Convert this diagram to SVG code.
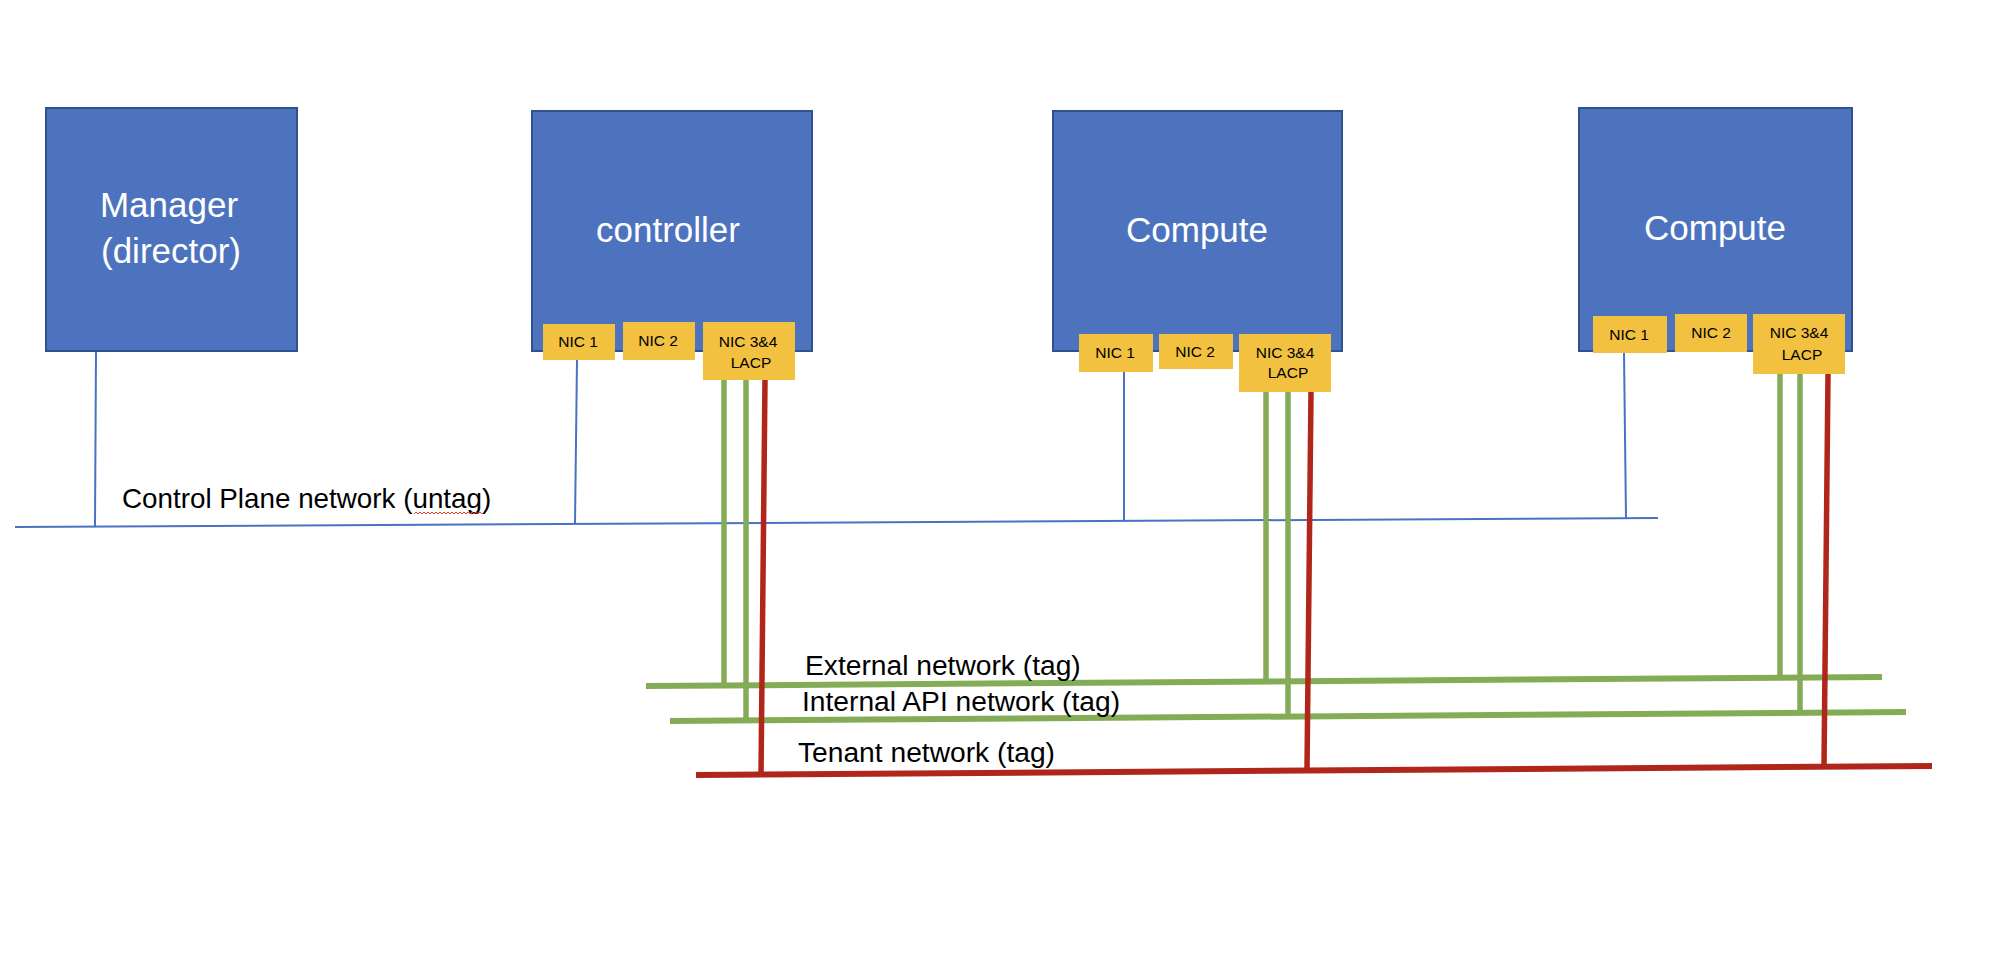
<svg xmlns="http://www.w3.org/2000/svg" width="2006" height="970" viewBox="0 0 2006 970">
<style>
.box{fill:#4E73BE;stroke:#2F528F;stroke-width:2}
.nic{fill:#F2C13F}
.big{font-family:"Liberation Sans",Arial,sans-serif;font-size:35px;fill:#ffffff;text-anchor:middle}
.nt{font-family:"Liberation Sans",Arial,sans-serif;font-size:15.5px;fill:#000000;text-anchor:middle}
.lbl{font-family:"Liberation Sans",Arial,sans-serif;font-size:28.2px;fill:#000000}
.blue{stroke:#4A72C4;stroke-width:2;fill:none}
.green{stroke:#84AB56;stroke-width:5.5;fill:none}
.greenh{stroke:#84AB56;stroke-width:6;fill:none}
.red{stroke:#B0261B;stroke-width:5.5;fill:none}
.redh{stroke:#B0261B;stroke-width:6;fill:none}
</style>
<rect width="2006" height="970" fill="#ffffff"/>
<g id="connectors">
<line class="blue" x1="15" y1="527" x2="1658" y2="518"/>
<line class="blue" x1="96" y1="351" x2="95" y2="526"/>
<line class="blue" x1="577" y1="360" x2="575" y2="523"/>
<line class="blue" x1="1124" y1="372" x2="1124" y2="521"/>
<line class="blue" x1="1624" y1="353" x2="1626" y2="518"/>
<line class="greenh" x1="646" y1="686" x2="1882" y2="677"/>
<line class="greenh" x1="670" y1="721" x2="1906" y2="712"/>
<line class="redh" x1="696" y1="775" x2="1932" y2="766"/>
<line class="green" x1="724" y1="380" x2="724" y2="686"/>
<line class="green" x1="746" y1="380" x2="746" y2="721"/>
<line class="red" x1="765" y1="380" x2="761" y2="775"/>
<line class="green" x1="1266" y1="392" x2="1266" y2="682"/>
<line class="green" x1="1288" y1="392" x2="1288" y2="717"/>
<line class="red" x1="1311" y1="392" x2="1307" y2="770"/>
<line class="green" x1="1780" y1="374" x2="1780" y2="680"/>
<line class="green" x1="1800" y1="374" x2="1800" y2="710"/>
<line class="red" x1="1828" y1="374" x2="1824" y2="767"/>
</g>
<g id="manager">
<rect class="box" x="46" y="108" width="251" height="243"/>
<text class="big" x="169" y="217">Manager</text>
<text class="big" x="171" y="263">(director)</text>
</g>
<g id="controller">
<rect class="box" x="532" y="111" width="280" height="240"/>
<text class="big" x="668" y="242">controller</text>
<rect class="nic" x="543" y="324" width="72" height="36"/>
<text class="nt" x="578" y="347">NIC 1</text>
<rect class="nic" x="623" y="322" width="72" height="38"/>
<text class="nt" x="658" y="346">NIC 2</text>
<rect class="nic" x="703" y="322" width="92" height="58"/>
<text class="nt" x="748" y="347">NIC 3&amp;4</text>
<text class="nt" x="751" y="368">LACP</text>
</g>
<g id="compute1">
<rect class="box" x="1053" y="111" width="289" height="240"/>
<text class="big" x="1197" y="242">Compute</text>
<rect class="nic" x="1079" y="334" width="74" height="38"/>
<text class="nt" x="1115" y="358">NIC 1</text>
<rect class="nic" x="1159" y="334" width="74" height="35"/>
<text class="nt" x="1195" y="357">NIC 2</text>
<rect class="nic" x="1239" y="334" width="92" height="58"/>
<text class="nt" x="1285" y="358">NIC 3&amp;4</text>
<text class="nt" x="1288" y="378">LACP</text>
</g>
<g id="compute2">
<rect class="box" x="1579" y="108" width="273" height="243"/>
<text class="big" x="1715" y="240">Compute</text>
<rect class="nic" x="1593" y="316" width="74" height="37"/>
<text class="nt" x="1629" y="340">NIC 1</text>
<rect class="nic" x="1675" y="314" width="72" height="38"/>
<text class="nt" x="1711" y="338">NIC 2</text>
<rect class="nic" x="1753" y="314" width="92" height="60"/>
<text class="nt" x="1799" y="338">NIC 3&amp;4</text>
<text class="nt" x="1802" y="360">LACP</text>
</g>
<g id="labels">
<text class="lbl" x="122" y="508" style="font-size:27.8px">Control Plane network (untag)</text>
<path d="M414,514 l2,-2 l2,2 l2,-2 l2,2 l2,-2 l2,2 l2,-2 l2,2 l2,-2 l2,2 l2,-2 l2,2 l2,-2 l2,2 l2,-2 l2,2 l2,-2 l2,2 l2,-2 l2,2 l2,-2 l2,2 l2,-2 l2,2 l2,-2 l2,2 l2,-2 l2,2 l2,-2 l2,2 l2,-2 l2,2 l2,-2 l2,2" fill="none" stroke="#E03C31" stroke-width="1"/>
<text class="lbl" x="805" y="675">External network (tag)</text>
<text class="lbl" x="802" y="711">Internal API network (tag)</text>
<text class="lbl" x="798" y="762">Tenant network (tag)</text>
</g>
</svg>
